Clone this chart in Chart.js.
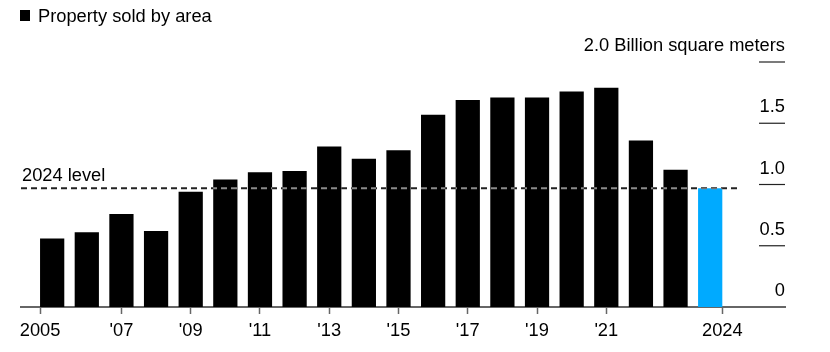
<!DOCTYPE html>
<html>
<head>
<meta charset="utf-8">
<script src="https://cdn.jsdelivr.net/npm/chart.js@4/dist/chart.umd.min.js"></script>
<style>
  html, body { margin: 0; padding: 0; background: #fff; }
  #wrap { width: 830px; height: 352px; position: relative; }
</style>
</head>
<body>
<div id="wrap"><canvas id="chart"></canvas></div>
<script>
const seriesName = 'Property sold by area'
const years = [2005, 2006, 2007, 2008, 2009, 2010, 2011, 2012, 2013, 2014,
               2015, 2016, 2017, 2018, 2019, 2020, 2021, 2022, 2023, 2024]
const values = [0.56, 0.61, 0.76, 0.62, 0.94, 1.04, 1.10, 1.11, 1.31, 1.21,
                1.28, 1.57, 1.69, 1.71, 1.71, 1.76, 1.79, 1.36, 1.12, 0.97]
const xTickYears = [2007, 2009, 2011, 2013, 2015, 2017, 2019, 2021]
const xTickLabels = ['2005', "'07", "'09", "'11", "'13", "'15", "'17", "'19", "'21", '2024']
const yTicks = [0, 0.5, 1.0, 1.5, 2.0]
const yTickLabels = ['0', '0.5', '1.0', '1.5', '2.0 Billion square meters']
const levelLabel = '2024 level'

const FONT = '"Liberation Sans", Arial, Helvetica, sans-serif'
const barPct = 0.7
const last = years.length - 1

// first and last tick sit on the outer edges of the first / last bar
const tickValues = [years[0] - barPct / 2, ...xTickYears, years[last] + barPct / 2]

const dashPath = (ctx, x0, x1, yy) => {
  ctx.beginPath()
  ctx.moveTo(x0, yy)
  ctx.lineTo(x1, yy)
  ctx.stroke()
}

const overlay = {
  id: 'overlay',
  afterDatasetsDraw(chart) {
    const { ctx, chartArea: a, scales: { x, y } } = chart
    const ly = y.getPixelForValue(values[last])
    const xEnd = x.getPixelForValue(years[last] + 0.85)
    ctx.save()
    ctx.setLineDash([6, 4])
    ctx.lineWidth = 2
    // lighter dashes on top of the bars
    ctx.globalCompositeOperation = 'source-atop'
    ctx.strokeStyle = '#8a8a8a'
    dashPath(ctx, a.left, xEnd, ly)
    // dark dashes on the white background
    ctx.globalCompositeOperation = 'destination-over'
    ctx.strokeStyle = '#222'
    dashPath(ctx, a.left, xEnd, ly)
    ctx.restore()
  },
  afterDraw(chart) {
    const { ctx, chartArea: a, scales: { y } } = chart
    ctx.save()
    ctx.fillStyle = '#000'
    ctx.font = '18.3px ' + FONT
    ctx.textBaseline = 'alphabetic'

    // legend / title
    ctx.fillRect(20, 10, 10, 11)
    ctx.textAlign = 'left'
    ctx.fillText(seriesName, 38, 22)

    // 2024 level label
    ctx.fillText(levelLabel, a.left + 1, y.getPixelForValue(values[last]) - 7.5)

    // right hand y ticks
    ctx.textAlign = 'right'
    ctx.strokeStyle = '#222'
    ctx.lineWidth = 1.2
    yTicks.forEach((v, i) => {
      const py = y.getPixelForValue(v)
      if (v > 0) {
        ctx.beginPath()
        ctx.moveTo(a.right - 26, py)
        ctx.lineTo(a.right, py)
        ctx.stroke()
      }
      ctx.fillText(yTickLabels[i], a.right, py - 11)
    })
    ctx.restore()
  }
}

const ctx = document.getElementById('chart')

new Chart(ctx, {
  type: 'bar',
  data: {
    datasets: [{
      label: seriesName,
      data: years.map((yr, i) => ({ x: yr, y: values[i] })),
      backgroundColor: c => c.dataIndex === last ? '#00aaff' : '#000',
      borderWidth: 0,
      barPercentage: barPct,
      categoryPercentage: 1
    }]
  },
  options: {
    responsive: true,
    maintainAspectRatio: false,
    animation: false,
    layout: { padding: { top: 62, left: 21, right: 45, bottom: 0 } },
    plugins: { legend: { display: false }, tooltip: { enabled: false } },
    scales: {
      x: {
        type: 'linear',
        offset: false,
        min: years[0] - 0.9,
        max: years[last] + 2.16,
        afterBuildTicks: scale => { scale.ticks = tickValues.map(v => ({ value: v })) },
        afterFit: scale => { scale.height = 45 },
        ticks: {
          callback: (v, i) => xTickLabels[i],
          font: { size: 18.3, family: FONT },
          color: '#000',
          padding: 6,
          maxRotation: 0,
          autoSkip: false
        },
        grid: { offset: false, drawOnChartArea: false, tickLength: 7, color: '#666', tickWidth: 1.5 },
        border: { color: '#666', width: 2 }
      },
      y: {
        display: false,
        min: 0,
        max: 2
      }
    }
  },
  plugins: [overlay]
})
</script>
</body>
</html>
